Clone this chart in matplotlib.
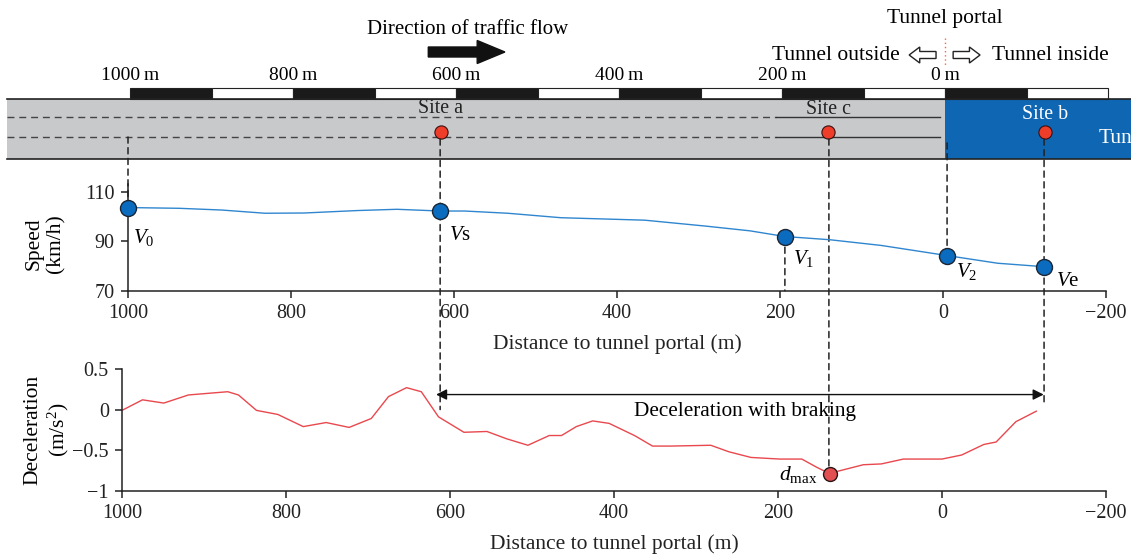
import matplotlib
matplotlib.use('Agg')
import matplotlib.pyplot as plt
from matplotlib.patches import Rectangle, FancyArrow, ConnectionPatch
from matplotlib.transforms import blended_transform_factory as blend

plt.rcParams['font.family'] = 'Liberation Serif'
plt.rcParams['mathtext.fontset'] = 'custom'
plt.rcParams['mathtext.rm'] = 'Liberation Serif'
plt.rcParams['mathtext.it'] = 'Liberation Serif:italic'
plt.rcParams['font.size'] = 15

# speed profile (distance to portal in m, km/h)
speed_dist = [1000, 937, 885, 832, 784, 718, 670, 617, 587, 534, 469,
              366, 291, 237, 194, 139, 76, -5, -67, -124]
speed_val = [103.6, 103.3, 102.6, 101.3, 101.4, 102.4, 102.9, 102.2, 102.2,
             101.3, 99.5, 98.5, 96.1, 94.2, 91.9, 90.6, 88.3, 84.2, 81.1, 79.7]

# key speed points
point_names = [r'$V_0$', r'$V$s', r'$V_1$', r'$V_2$', r'$V$e']
point_dist = [1000, 617, 194, -5, -124]
point_speed = [103.6, 102.2, 91.9, 84.2, 79.7]

# deceleration profile (m/s2)
dec_dist = [1000, 975, 949, 919, 871, 858, 836, 810, 779, 751, 723, 696,
            675, 653, 635, 614, 583, 555, 531, 505, 479, 464, 446, 426, 406,
            375, 353, 331, 282, 260, 233, 198, 171, 153, 137, 127, 96, 74,
            47, 0, -24, -51, -66, -90, -115]
dec_val = [-0.01, 0.12, 0.08, 0.18, 0.22, 0.18, -0.01, -0.06, -0.21, -0.16,
           -0.22, -0.11, 0.16, 0.27, 0.22, -0.09, -0.28, -0.27, -0.36, -0.44,
           -0.32, -0.32, -0.21, -0.14, -0.17, -0.32, -0.45, -0.45, -0.44,
           -0.52, -0.59, -0.61, -0.61, -0.71, -0.79, -0.76, -0.68, -0.67,
           -0.61, -0.61, -0.56, -0.43, -0.40, -0.15, -0.02]
dmax_dist = 137
dmax_val = -0.79

# road diagram
site_names = ['Site a', 'Site c', 'Site b']
site_dist = [619, 143, -123]
scale_marks = [1000, 800, 600, 400, 200, 0]
xticks = [1000, 800, 600, 400, 200, 0, -200]

gray = '#c8c9cb'
tunnel_blue = '#0f66b3'
line_blue = '#2f86cf'
pt_blue = '#0b6cbf'
site_red = '#ee3e2a'
dec_red = '#e8484e'

W, H = 1131, 555
fig = plt.figure(figsize=(W / 100, H / 100), dpi=100)


def box(left, top, right, bottom):
    return [left / W, 1 - bottom / H, (right - left) / W, (bottom - top) / H]


ax_road = fig.add_axes(box(0, 0, W, 165), zorder=0)
ax_road.set_xlim(945 / 0.815, -(W - 945) / 0.815)
ax_road.set_ylim(165, 0)
ax_road.axis('off')

road_l, road_r = 1151, -235
ax_road.add_patch(Rectangle((0, 99), road_l, 60, fc=gray, ec='none'))
ax_road.add_patch(Rectangle((road_r, 99), -road_r, 60, fc=tunnel_blue, ec='none'))
ax_road.plot([road_l, road_r], [99, 99], color='#222', lw=1.2)
ax_road.plot([road_l, road_r], [159, 159], color='#222', lw=1.2)
for y in [117, 137]:
    ax_road.plot([road_l, 207], [y, y], color='#444', lw=1, ls=(0, (5, 3.5)))
    ax_road.plot([207, 6], [y, y], color='#333', lw=1)

# scale bar 100 m per block
for i, start in enumerate(range(1000, -200, -100)):
    ax_road.add_patch(Rectangle((start - 100, 88), 100, 11,
                                fc='#1a1a1a' if i % 2 == 0 else 'white',
                                ec='#222', lw=0.8))
for m in scale_marks:
    ax_road.text(m, 75, f'{m}\u2009m', ha='center', va='center', fontsize=14)

ax_road.plot(site_dist, [132] * 3, 'o', ms=9.5, mfc=site_red, mec='#3a1010',
             mew=0.8, zorder=5)
for name, d, y in zip(site_names, site_dist, [108, 109, 114]):
    ax_road.text(d, y, name, ha='center', va='center', fontsize=14.3,
                 color='white' if d < 0 else '#222')
ax_road.text(-188, 138, 'Tunnel', ha='left', va='center', fontsize=15.5,
             color='white')

ax_road.text(586, 29, 'Direction of traffic flow', ha='center', va='center')
ax_road.add_patch(FancyArrow(634, 52, -94, 0, width=10, head_width=23,
                             head_length=34, length_includes_head=True,
                             fc='#111', ec='#111'))

ax_road.plot([0, 0], [38, 67], color='#f06a4a', lw=1, ls=(0, (1, 2)))
ax_road.text(0, 18, 'Tunnel portal', ha='center', va='center', fontsize=15.5)
ax_road.text(55, 55, 'Tunnel outside', ha='right', va='center', fontsize=15.5)
ax_road.text(-58, 55, 'Tunnel inside', ha='left', va='center', fontsize=15.5)
for x0, dx in [(11, 33), (-10, -33)]:
    ax_road.add_patch(FancyArrow(x0, 55, dx, 0, width=7, head_width=16,
                                 head_length=13, length_includes_head=True,
                                 fc='white', ec='#222', lw=1))

# speed and deceleration charts
ax_sp = fig.add_axes(box(128, 184.3, 1106, 290.7), zorder=2)
ax_dc = fig.add_axes(box(122, 369, 1106, 490.7), zorder=2)
for ax in [ax_sp, ax_dc]:
    ax.patch.set_alpha(0)
    ax.spines[['top', 'right']].set_visible(False)
    for s in ['left', 'bottom']:
        ax.spines[s].set_linewidth(1.1)
        ax.spines[s].set_color('#222')
    ax.tick_params(direction='out', length=5, width=1.1, colors='#222',
                   labelsize=14.5, pad=4.5)
    ax.set_xlim(1000, -200)
    ax.set_xticks(xticks)
    ax.set_xticklabels([str(t).replace('-', '\u2212') for t in xticks])
    ax.set_xlabel('Distance to tunnel portal (m)', fontsize=15.5,
                  color='#222', labelpad=8)

ax_sp.plot(speed_dist, speed_val, color=line_blue, lw=1)
ax_sp.plot(point_dist, point_speed, 'o', ms=11.5, mfc=pt_blue, mec='#1b2533',
           mew=1, zorder=4, clip_on=False)
label_pos = [(994, 91.7), (606, 92.5), (184, 83.2), (-16, 77.7), (-139, 73.9)]
for name, (lx, ly) in zip(point_names, label_pos):
    ax_sp.text(lx, ly, name, ha='left', va='center', fontsize=15)
ax_sp.set_ylim(70, 113)
ax_sp.set_yticks([70, 90, 110])
ax_sp.set_ylabel('Speed\n(km/h)', va='center', ha='center', fontsize=15.5)
ax_sp.yaxis.set_label_coords(-0.085, 0.44)

ax_dc.plot(dec_dist, dec_val, color=dec_red, lw=1)
ax_dc.plot([dmax_dist], [dmax_val], 'o', ms=10, mfc='#e34e50', mec='#2a1515',
           mew=1, zorder=4)
ax_dc.text(152, -0.80, r'$d_{\mathrm{max}}$', ha='right', va='center',
           fontsize=15.5)
ax_dc.annotate('', xy=(point_dist[4], 0.185), xytext=(point_dist[1], 0.185),
               arrowprops=dict(arrowstyle='<|-|>', color='#111', lw=1,
                               mutation_scale=16, shrinkA=0, shrinkB=0))
ax_dc.text(240, -0.02, 'Deceleration with braking', ha='center', va='center',
           fontsize=15.3)
ax_dc.set_ylim(-1, 0.5)
ax_dc.set_yticks([-1, -0.5, 0, 0.5])
ax_dc.set_yticklabels(['\u22121', '\u22120.5', '0', '0.5'])
ax_dc.set_ylabel('Deceleration\n(m/s$^2$)', va='center', ha='center',
                 fontsize=15.5)
ax_dc.yaxis.set_label_coords(-0.076, 0.5)


def vline(d, ax_a, ya, ax_b, yb):
    con = ConnectionPatch(xyA=(d, ya), coordsA=blend(ax_sp.transData, ax_a.transData),
                          xyB=(d, yb), coordsB=blend(ax_sp.transData, ax_b.transData),
                          color='#222', lw=1.1, ls=(0, (4, 3)), zorder=1)
    fig.add_artist(con)


vline(point_dist[0], ax_road, 137, ax_sp, point_speed[0])
vline(point_dist[1], ax_road, 139, ax_dc, 0.0)
vline(140, ax_road, 139, ax_dc, dmax_val)
vline(point_dist[3], ax_road, 143, ax_sp, point_speed[3])
vline(point_dist[4], ax_road, 139, ax_dc, 0.06)
vline(point_dist[2], ax_sp, point_speed[2], ax_sp, 70)

fig.savefig('out.png', dpi=100)
